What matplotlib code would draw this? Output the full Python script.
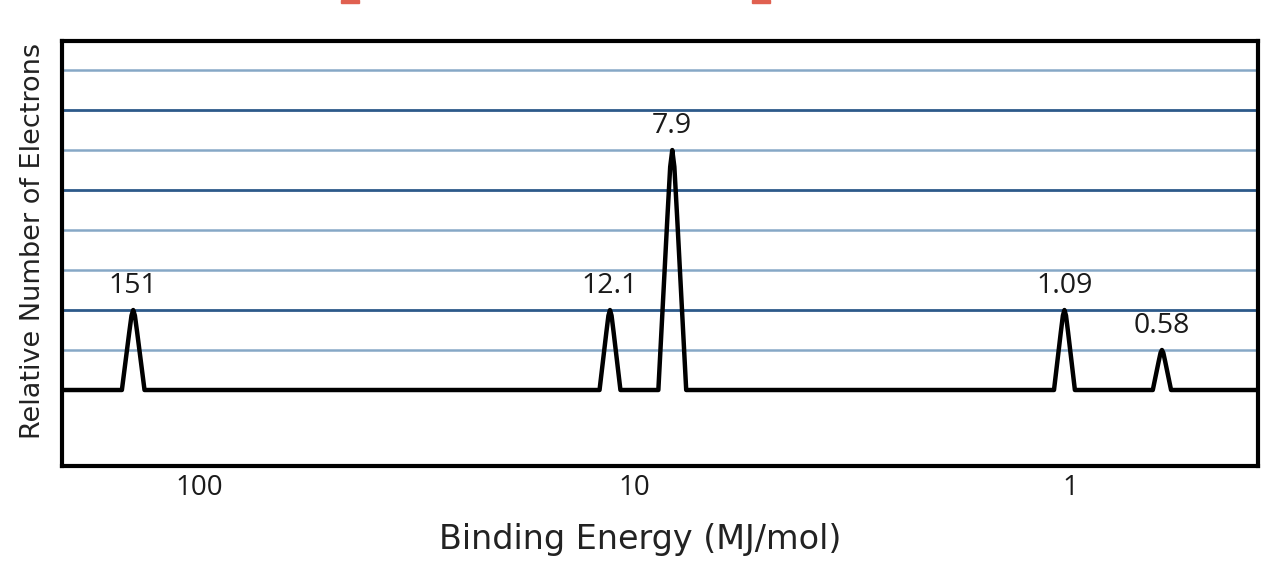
import numpy as np
import matplotlib.pyplot as plt
from matplotlib.patches import Rectangle

plt.rcParams['font.family'] = ['Open Sans', 'DejaVu Sans']

# photoelectron spectrum (aluminium)
peak_pos = [142, 11.4, 8.2, 1.03, 0.615]        # where each peak sits on the drawn axis
peak_labels = ['151', '12.1', '7.9', '1.09', '0.58']
peak_heights = [2, 2, 6, 2, 1]
peak_halfw = [0.026, 0.024, 0.032, 0.024, 0.021]  # half width, decades

tick_vals = [100, 10, 1]
tick_labels = ['100', '10', '1']
grid_levels = [1, 2, 3, 4, 5, 6, 7, 8]
grid_dark = [2, 5, 7]

x_min, x_max = 0.37, 207
y_min, y_max = -1.9, 8.73

fig = plt.figure(figsize=(12.8, 5.76), dpi=100)
ax = fig.add_axes([0.0484, 0.191, 0.9344, 0.738])

# build the trace: flat baseline with a narrow peak at each position
xs = [x_max]
ys = [0]
order = np.argsort(peak_pos)[::-1]
for i in order:
    c = np.log10(peak_pos[i])
    w = peak_halfw[i]
    offs = [1, 0.35, 0.15, 0, -0.15, -0.35, -1]
    fr = [0, 0.72, 0.93, 1, 0.93, 0.72, 0]
    xs += [10 ** (c + w * o) for o in offs]
    ys += [peak_heights[i] * f for f in fr]
xs.append(x_min)
ys.append(0)

for lv in grid_levels:
    if lv in grid_dark:
        ax.axhline(lv, color='#2d5a8a', lw=2.0, zorder=1)
    else:
        ax.axhline(lv, color='#86a8c6', lw=1.8, zorder=1)

ax.plot(xs, ys, color='black', lw=3.2, solid_joinstyle='round', zorder=3)

for p, lab, h in zip(peak_pos, peak_labels, peak_heights):
    ax.annotate(lab, (p, h), xytext=(0, 7), textcoords='offset points',
                ha='center', va='bottom', fontsize=20.5, color='#1a1a1a')

ax.set_xscale('log')
ax.set_xlim(x_max, x_min)
ax.set_ylim(y_min, y_max)
ax.set_xticks(tick_vals)
ax.set_xticklabels(tick_labels)
ax.minorticks_off()
ax.tick_params(axis='x', length=0, pad=6, labelsize=20, labelcolor='#1a1a1a')
ax.set_yticks([])

for s in ax.spines.values():
    s.set_linewidth(3)
    s.set_color('black')

ax.set_xlabel('Binding Energy (MJ/mol)', fontsize=24, color='#222222',
              family='DejaVu Sans')
ax.xaxis.set_label_coords((640 - 62) / 1196, -0.135)
ax.set_ylabel('Relative Number of Electrons', fontsize=19.5, color='#222222',
              family='DejaVu Sans')
ax.yaxis.set_label_coords(-0.0135, 0.53)

# red remnants of the cut-off title at the top edge
for x0 in [341, 752]:
    fig.patches.append(Rectangle((x0 / 1280, 1 - 3 / 576), 18 / 1280, 3 / 576,
                                 transform=fig.transFigure, color='#e06050'))

fig.savefig('out.png', dpi=100)
